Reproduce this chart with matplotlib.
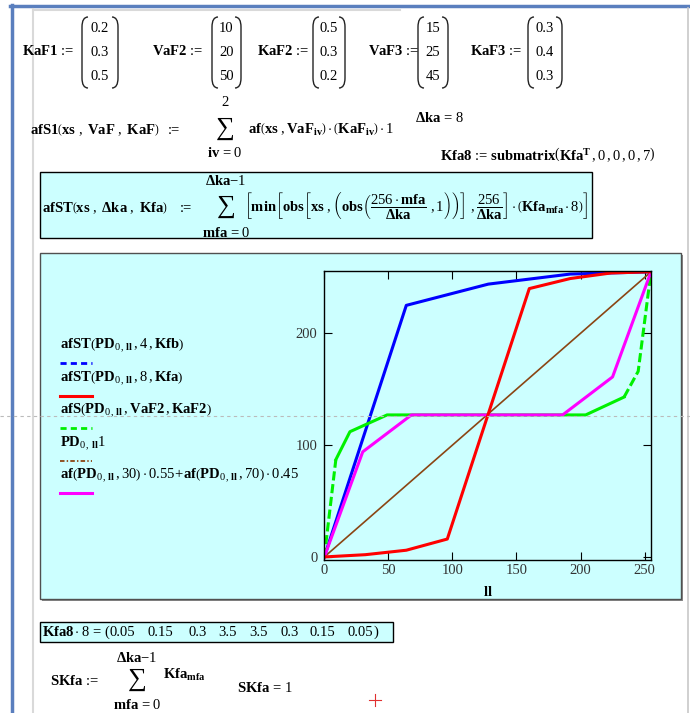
import matplotlib
matplotlib.use('Agg')
import matplotlib.pyplot as plt
from matplotlib.lines import Line2D
from matplotlib.patches import Rectangle, PathPatch
from matplotlib.path import Path

plt.rcParams['mathtext.fontset'] = 'custom'
plt.rcParams['mathtext.rm'] = 'Liberation Serif'
plt.rcParams['mathtext.bf'] = 'Liberation Serif:bold'
plt.rcParams['mathtext.it'] = 'Liberation Serif:italic'
plt.rcParams['mathtext.sf'] = 'Liberation Serif'
plt.rcParams['font.family'] = ['Liberation Serif', 'DejaVu Sans']

# ---------------- data ----------------
KaF1 = [0.2, 0.3, 0.5]
VaF2 = [10, 20, 50]
KaF2 = [0.5, 0.3, 0.2]
VaF3 = [15, 25, 45]
KaF3 = [0.3, 0.4, 0.3]
delta_ka = 8
Kfa8_x8 = [0.05, 0.15, 0.3, 3.5, 3.5, 0.3, 0.15, 0.05]
SKfa = 1

ll_afST4 = [0, 64, 128, 192, 255]
afST4 = [0, 225, 244, 253, 255]
ll_afST8 = [0, 32, 64, 96, 128, 160, 192, 224, 255]
afST8 = [0, 2, 6, 16, 128, 240, 249, 254, 255]
ll_afS = [0, 9, 20, 49, 204, 234, 245, 255]
afS = [0, 87, 112, 127, 127, 143, 166, 255]
ll_PD = [0, 255]
PD = [0, 255]
ll_mix = [0, 30, 68, 186, 225, 255]
af_mix = [0, 94, 127, 127, 161, 255]

x_ticks = [0, 50, 100, 150, 200, 250]
y_ticks = [0, 100, 200]

legend_labels = [
    r"$\mathbf{afST}\left(\mathbf{PD}_{0\,,\,\mathbf{ll}}\,,4\,,\mathbf{Kfb}\right)$",
    r"$\mathbf{afST}\left(\mathbf{PD}_{0\,,\,\mathbf{ll}}\,,8\,,\mathbf{Kfa}\right)$",
    r"$\mathbf{afS}\left(\mathbf{PD}_{0\,,\,\mathbf{ll}}\,,\mathbf{VaF2}\,,\mathbf{KaF2}\right)$",
    r"$\mathbf{PD}_{0\,,\,\mathbf{ll}}1$",
    r"$\mathbf{af}\left(\mathbf{PD}_{0\,,\,\mathbf{ll}}\,,30\right)\cdot0.55\!+\!\mathbf{af}\left(\mathbf{PD}_{0\,,\,\mathbf{ll}}\,,70\right)\cdot0.45$",
]

C_CYAN = '#CCFFFF'
C_BLUE, C_RED, C_GREEN, C_BROWN, C_MAG = '#0000FF', '#FF0000', '#00F000', '#8B4513', '#FF00FF'
MINUS = "\u2212"
SIGMA = "\u2211"

# ---------------- figure ----------------
W, H = 690, 713
fig = plt.figure(figsize=(W / 100, H / 100), dpi=100)
bg = fig.add_axes([0, 0, 1, 1], zorder=0)
bg.set_xlim(0, W)
bg.set_ylim(H, 0)
bg.axis('off')

FS = 10.5


def T(x, y, s, size=FS, ha='left', va='center', **kw):
    return bg.text(x, y, s, fontsize=size, ha=ha, va=va, color='black', **kw)


def paren(x, y0, y1, right=False, w=6, c=10):
    s = -1 if right else 1
    verts = [(x + s * w, y0), (x, y0), (x, y0 + c), (x, y1 - c), (x, y1), (x + s * w, y1)]
    codes = [Path.MOVETO, Path.CURVE3, Path.CURVE3, Path.LINETO, Path.CURVE3, Path.CURVE3]
    bg.add_patch(PathPatch(Path(verts, codes), fc='none', ec='#222222', lw=1.0))


def matrix(label, lx, vals, xl, xr):
    T(lx, 51, r"$\mathbf{%s}$ :=" % label)
    xc = (xl + xr) / 2
    for i, v in enumerate(vals):
        T(xc, 28 + 24 * i, f"{v}", ha='center')
    paren(xl, 17, 88)
    paren(xr, 17, 88, right=True)


# page decorations
bg.add_line(Line2D([10, W], [6, 6], color='#5A7FBE', lw=2.5))
bg.add_line(Line2D([11.5, 11.5], [5, H], color='#5A7FBE', lw=2.5))
bg.add_line(Line2D([33, 33], [9, H], color='#D9D9D9', lw=1.5))
bg.add_line(Line2D([33, 400], [9.5, 9.5], color='#D9D9D9', lw=1.5))
bg.add_line(Line2D([688, 688], [8, H], color='#C8C8C8', lw=1.2))

# row 1: matrices
matrix('KaF1', 22, KaF1, 82, 118)
matrix('VaF2', 152, VaF2, 212, 241)
matrix('KaF2', 257, KaF2, 313, 345)
matrix('VaF3', 368, VaF3, 418, 448)
matrix('KaF3', 470, KaF3, 528, 562)

# row 2
T(30, 130, r"$\mathbf{afS1}\left(\mathbf{xs}\ ,\ \mathbf{VaF}\ ,\ \mathbf{KaF}\right)$")
T(168, 130, ":=")
T(225, 129, SIGMA, size=19, ha='center')
T(225, 103, "2", ha='center')
T(225, 153, r"$\mathbf{iv}$ = 0", ha='center')
T(248, 130, r"$\mathbf{af}\left(\mathbf{xs}\ ,\mathbf{VaF}_{\mathbf{iv}}\right)\cdot\left(\mathbf{KaF}_{\mathbf{iv}}\right)\cdot1$")
T(415, 118, r"$\mathbf{\Delta ka}$ = %d" % delta_ka)
T(440, 155, r"$\mathbf{Kfa8}$ := $\mathbf{submatrix}\left(\mathbf{Kfa}^{\mathbf{T}}\,,0\,,0\,,0\,,7\right)$")

# row 3 (boxed)
bg.add_patch(Rectangle((40, 172), 552, 66, fc=C_CYAN, ec='black', lw=1.0))
T(42, 208, r"$\mathbf{afST}\left(\mathbf{xs}\ ,\ \mathbf{\Delta ka}\ ,\ \mathbf{Kfa}\right)$")
T(180, 208, ":=")
T(226, 207, SIGMA, size=19, ha='center')
T(226, 181, r"$\mathbf{\Delta ka}$" + MINUS + "1", ha='center')
T(226, 233, r"$\mathbf{mfa}$ = 0", ha='center')
T(244, 206, r"$\left[\mathbf{min}\left[\mathbf{obs}\left[\mathbf{xs}\ ,\left(\mathbf{obs}\left(\dfrac{256\cdot\mathbf{mfa}}{\mathbf{\Delta ka}}\ ,1\right)\right)\right]\ ,\dfrac{256}{\mathbf{\Delta ka}}\right]\cdot\left(\mathbf{Kfa}_{\mathbf{mfa}}\cdot8\right)\right]$")

# plot region
bg.add_patch(Rectangle((42, 255), 641, 346, fc='#8A8A8A', ec='none'))
bg.add_patch(Rectangle((40, 253), 641, 346, fc=C_CYAN, ec='#505050', lw=1.0))

# legend (text + line samples)
leg_styles = [
    (C_BLUE, (0, (2.2, 1.5)), 2.0),
    (C_RED, '-', 2.2),
    (C_GREEN, (0, (2.2, 1.5)), 2.0),
    (C_BROWN, (0, (2.5, 1.2, 0.8, 1.2)), 1.3),
    (C_MAG, '-', 2.2),
]
for i, (lab, (col, ls, lw)) in enumerate(zip(legend_labels, leg_styles)):
    y = 346 + 32.5 * i
    T(60, y, lab)
    bg.add_line(Line2D([60, 92], [y + 17, y + 17], color=col, ls=ls, lw=lw))

# chart axes
L, R, TOP, BOT = 324.3, 651, 270.7, 559.5
ax = fig.add_axes([L / W, 1 - BOT / H, (R - L) / W, (BOT - TOP) / H], zorder=1)
ax.set_facecolor(C_CYAN)
ax.plot(ll_afST4, afST4, color=C_BLUE, lw=2.2, solid_joinstyle='round')
ax.plot(ll_afS[1:-2], afS[1:-2], color=C_GREEN, lw=2.2)
ax.plot(ll_afS[:2], afS[:2], color=C_GREEN, lw=2.2, ls=(0, (3, 1.2)))
ax.plot(ll_afS[-3:], afS[-3:], color=C_GREEN, lw=2.2, ls=(0, (3, 1.2)))
ax.plot(ll_PD, PD, color=C_BROWN, lw=1.2)
ax.plot(ll_mix, af_mix, color=C_MAG, lw=2.2)
ax.plot(ll_afST8, afST8, color=C_RED, lw=2.2)
ax.set_xlim(0, 255)
ax.set_ylim(-2.3, 256)
ax.set_xticks(x_ticks)
ax.set_yticks(y_ticks)
ax.tick_params(direction='in', length=6, width=0.8, top=True, right=True,
               labelsize=10.5, labelcolor='#333333', pad=3)
ax.tick_params(axis='y', pad=5)
for sp in ax.spines.values():
    sp.set_linewidth(1.0)
    sp.set_color('black')
T((L + R) / 2, 592, r"$\mathbf{ll}$", ha='center')

# bottom block
bg.add_patch(Rectangle((40, 622), 353, 20, fc=C_CYAN, ec='black', lw=1.0))
T(42, 632, r"$\mathbf{Kfa8}\cdot8$ = (")
val_centers = [122, 160.5, 197.5, 227.5, 259, 289.5, 322, 360]
for xc, v in zip(val_centers, Kfa8_x8):
    T(xc, 632, f"{v:g}", ha='center')
T(373, 632, ")")
T(50, 681, r"$\mathbf{SKfa}$ :=")
T(137, 680, SIGMA, size=19, ha='center')
T(137, 658, r"$\mathbf{\Delta ka}$" + MINUS + "1", ha='center')
T(137, 705, r"$\mathbf{mfa}$ = 0", ha='center')
T(163, 675, r"$\mathbf{Kfa}_{\mathbf{mfa}}$")
T(237, 688, r"$\mathbf{SKfa}$ = %d" % SKfa)
bg.add_line(Line2D([369, 381], [700, 700], color='#E03030', lw=0.8))
bg.add_line(Line2D([375, 375], [694, 706], color='#E03030', lw=0.8))

# page-break dashed line on top of everything
fig.add_artist(Line2D([0, 1], [1 - 416 / H] * 2, transform=fig.transFigure,
                      color='#BBBBBB', lw=0.8, ls=(0, (3, 3)), zorder=10))

fig.savefig('out.png', dpi=100)
